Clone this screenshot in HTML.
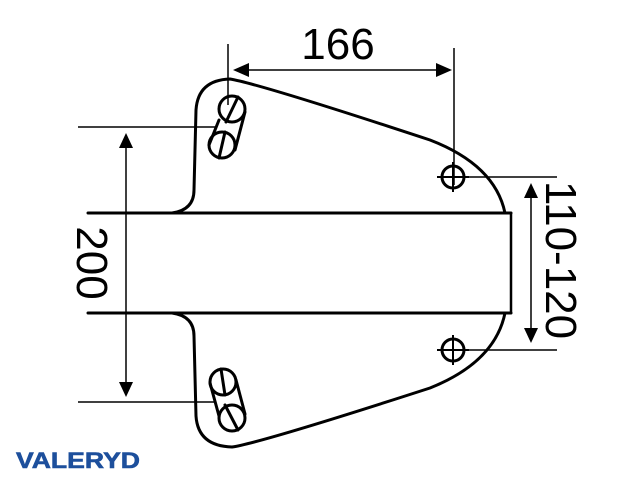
<!DOCTYPE html>
<html><head><meta charset="utf-8"><style>
html,body{margin:0;padding:0;background:#fff;width:640px;height:480px;overflow:hidden}
svg{display:block}
</style></head><body>
<svg width="640" height="480" viewBox="0 0 640 480" xmlns="http://www.w3.org/2000/svg">
<defs>
<linearGradient id="fade" x1="0" x2="1" y1="0" y2="0">
<stop offset="0" stop-color="#000" stop-opacity="0"/><stop offset="0.5" stop-color="#000" stop-opacity="1"/>
</linearGradient>
</defs>
<g fill="none" stroke="#000" stroke-width="3" stroke-linecap="round">
<path d="M172 213 Q194 210 194 190 L196 110 Q198 80 230 79 Q260 84 430 140 Q495 165 505 213"/>
<path d="M172 313 Q194 316 194 336 L196 416 Q198 446 232 447 Q260 443 430 388 Q495 362 505 313"/>
<line x1="88" y1="213" x2="511" y2="213"/>
<line x1="88" y1="313" x2="511" y2="313"/>
<line x1="511" y1="213" x2="511" y2="313" stroke-width="2.5"/>
<circle cx="232" cy="109" r="13"/>
<circle cx="222" cy="145" r="13"/>
<line x1="219" y1="120" x2="209" y2="145"/>
<line x1="245" y1="112" x2="235" y2="150"/>
<line x1="238" y1="97" x2="226" y2="122"/>
<line x1="225" y1="132" x2="219" y2="158"/>
<circle cx="223" cy="382" r="13"/>
<circle cx="232" cy="418" r="13"/>
<line x1="210" y1="383" x2="219" y2="416"/>
<line x1="236" y1="380" x2="245" y2="414"/>
<line x1="221" y1="369" x2="225" y2="395"/>
<line x1="225" y1="405" x2="238" y2="430"/>
<circle cx="453" cy="177" r="11"/>
<circle cx="453" cy="350" r="11"/>
</g>
<g fill="none" stroke="#000" stroke-width="2">
<line x1="453" y1="162" x2="453" y2="192"/><line x1="437" y1="177" x2="469" y2="177"/>
<line x1="453" y1="335" x2="453" y2="365"/><line x1="437" y1="350" x2="469" y2="350"/>
<line x1="58" y1="213" x2="90" y2="213" stroke="url(#fade)" stroke-width="3"/>
<line x1="58" y1="313" x2="90" y2="313" stroke="url(#fade)" stroke-width="3"/>
</g>
<g stroke="#000" stroke-width="1.5" fill="none">
<line x1="228" y1="44" x2="228" y2="105"/>
<line x1="454" y1="48" x2="454" y2="185"/>
<line x1="245" y1="70" x2="440" y2="70"/>
<line x1="78" y1="127" x2="215" y2="127"/>
<line x1="78" y1="402" x2="215" y2="402"/>
<line x1="126" y1="145" x2="126" y2="385"/>
<line x1="465" y1="177" x2="557" y2="177"/>
<line x1="465" y1="350" x2="557" y2="350"/>
<line x1="531" y1="195" x2="531" y2="332"/>
</g>
<g fill="#000">
<polygon points="233,70 249,63 249,77"/>
<polygon points="452,70 436,63 436,77"/>
<polygon points="126,133 119,148 133,148"/>
<polygon points="126,397 119,382 133,382"/>
<polygon points="531,183 524,198 538,198"/>
<polygon points="531,343 524,328 538,328"/>
</g>
<g font-family="Liberation Sans, sans-serif" font-size="44" fill="#000">
<text x="338" y="59" text-anchor="middle">166</text>
<text transform="translate(77,263) rotate(90)" text-anchor="middle">200</text>
<text transform="translate(546,260) rotate(90)" text-anchor="middle">110-120</text>
</g>
<text x="16" y="468" font-family="Liberation Sans, sans-serif" font-weight="900" font-size="22" fill="#1d4f9c" stroke="#1d4f9c" stroke-width="0.6" textLength="124" lengthAdjust="spacingAndGlyphs">VALERYD</text>
</svg>
</body></html>
